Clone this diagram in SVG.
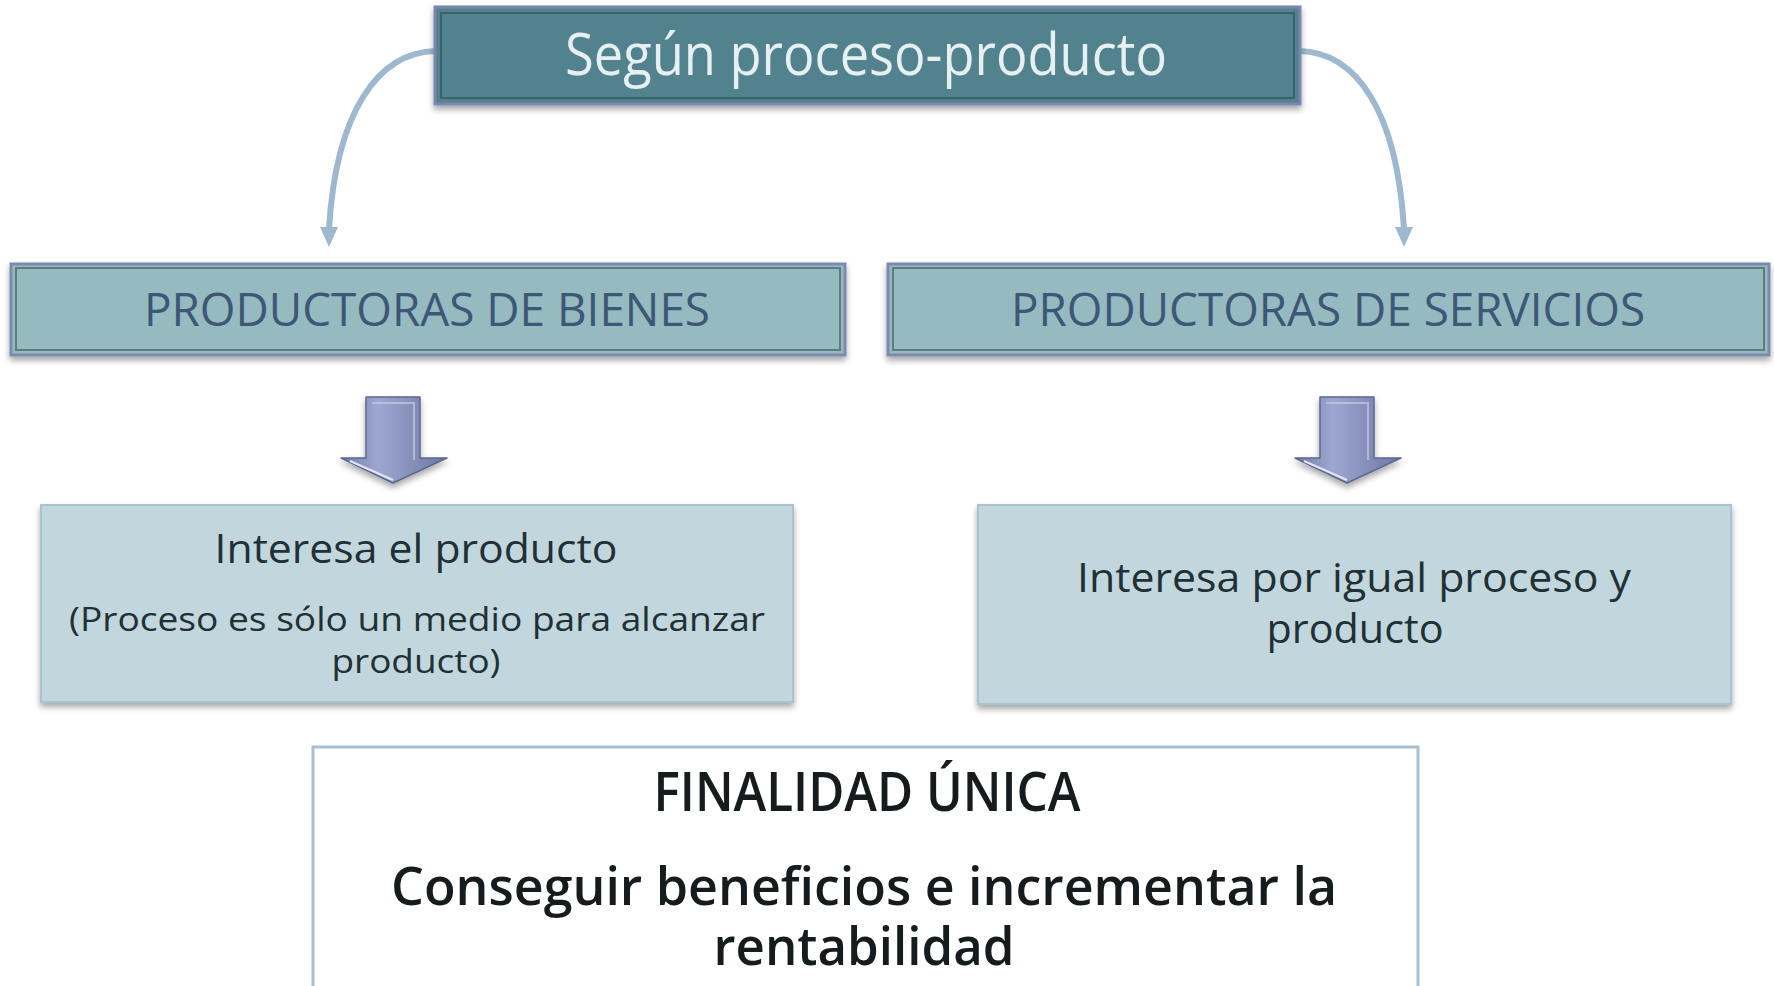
<svg xmlns="http://www.w3.org/2000/svg" width="1774" height="986" viewBox="0 0 1774 986">
  <defs>
    <filter id="sh" x="-5%" y="-20%" width="110%" height="150%">
      <feDropShadow dx="0" dy="4" stdDeviation="3" flood-color="#000" flood-opacity="0.35"/>
    </filter>
    <linearGradient id="arrowGrad" x1="0" y1="0" x2="1" y2="0">
      <stop offset="0" stop-color="#6f7ba6"/>
      <stop offset="0.35" stop-color="#9ea7d2"/>
      <stop offset="1" stop-color="#6c77a2"/>
    </linearGradient>
    <marker id="ahd" markerUnits="userSpaceOnUse" markerWidth="18" markerHeight="22" refX="9" refY="2" orient="0" viewBox="0 0 18 22">
      <path d="M0,0 L18,0 L9,20 Z" fill="#9eb8cf"/>
    </marker>
  </defs>
  <style>
    .t { font-family: "Open Sans", "DejaVu Sans", sans-serif; text-anchor: middle; }
    .head { fill: #52828f; stroke: #7a86ad; stroke-width: 3; }
    .headIn { fill: none; stroke: #3b6269; stroke-width: 2; }
    .cat { fill: #95babf; stroke: #7d8ab0; stroke-width: 3; }
    .catIn { fill: none; stroke: #5b7d80; stroke-width: 2; }
    .catTxt { fill: #3d5876; font-size: 46px; }
    .box { fill: #c2d6dd; stroke: #a9c3d0; stroke-width: 2; }
    .boxTxt { fill: #1f3134; }
    .blk { fill: url(#arrowGrad); stroke: #5d6890; stroke-width: 1.5; stroke-linejoin: round; }
    .blkHi { fill: none; stroke: #c4cbe6; stroke-width: 2; opacity: 0.7; }
    .curve { fill: none; stroke: #9eb8cf; stroke-width: 6; stroke-linecap: butt; }
    .final { fill: #ffffff; stroke: #a8c0d4; stroke-width: 3; }
    .finalTxt { fill: #161c1e; font-weight: 600; }
  </style>
  <rect width="1774" height="986" fill="#ffffff"/>

  <g id="connectors">
    <path class="curve" d="M436,51 C378,52 336,112 329,229" marker-end="url(#ahd)"/>
    <path class="curve" d="M1299,51 C1357,52 1397,112 1404,229" marker-end="url(#ahd)"/>
    <g id="arrow-left">
      <path class="blk" filter="url(#sh)" d="M366,397 L420,397 L420,458 L447,458 L393,483 L341,458 L366,458 Z"/>
      <path class="blkHi" d="M372,403 L414,403 L414,460"/>
      <path d="M350,461 L393,480" stroke="#e2e6f4" stroke-width="2" fill="none"/>
    </g>
    <g id="arrow-right">
      <path class="blk" filter="url(#sh)" d="M1320,397 L1374,397 L1374,458 L1401,458 L1347,483 L1295,458 L1320,458 Z"/>
      <path class="blkHi" d="M1326,403 L1368,403 L1368,460"/>
      <path d="M1304,461 L1347,480" stroke="#e2e6f4" stroke-width="2" fill="none"/>
    </g>
  </g>

  <g id="node-top">
    <rect class="head" x="435" y="7" width="865" height="97" filter="url(#sh)"/>
    <rect class="headIn" x="441" y="13" width="853" height="85"/>
    <text class="t" x="866" y="75" font-size="58" fill="#e6eff1" textLength="602" lengthAdjust="spacingAndGlyphs">Según proceso-producto</text>
  </g>

  <g id="node-bienes">
    <rect class="cat" x="11" y="264" width="834" height="91" filter="url(#sh)"/>
    <rect class="catIn" x="16" y="268" width="824" height="82"/>
    <text class="t catTxt" x="427" y="326" textLength="566" lengthAdjust="spacingAndGlyphs">PRODUCTORAS DE BIENES</text>
  </g>

  <g id="node-servicios">
    <rect class="cat" x="888" y="264" width="881" height="91" filter="url(#sh)"/>
    <rect class="catIn" x="893" y="268" width="871" height="82"/>
    <text class="t catTxt" x="1328" y="326" textLength="634" lengthAdjust="spacingAndGlyphs">PRODUCTORAS DE SERVICIOS</text>
  </g>

  <g id="node-producto">
    <rect class="box" x="41" y="505" width="752" height="197" filter="url(#sh)"/>
    <text class="t boxTxt" x="416" y="563" font-size="41" textLength="403" lengthAdjust="spacingAndGlyphs">Interesa el producto</text>
    <text class="t boxTxt" x="417" y="631" font-size="33" textLength="696" lengthAdjust="spacingAndGlyphs">(Proceso es sólo un medio para alcanzar</text>
    <text class="t boxTxt" x="416" y="673" font-size="33" textLength="169" lengthAdjust="spacingAndGlyphs">producto)</text>
  </g>

  <g id="node-proceso">
    <rect class="box" x="978" y="505" width="753" height="199" filter="url(#sh)"/>
    <text class="t boxTxt" x="1354" y="592" font-size="41" textLength="554" lengthAdjust="spacingAndGlyphs">Interesa por igual proceso y</text>
    <text class="t boxTxt" x="1355" y="643" font-size="41" textLength="177" lengthAdjust="spacingAndGlyphs">producto</text>
  </g>

  <g id="node-finalidad">
    <rect class="final" x="313" y="747" width="1105" height="260"/>
    <text class="t finalTxt" x="867" y="811" font-size="54" textLength="427" lengthAdjust="spacingAndGlyphs">FINALIDAD ÚNICA</text>
    <text class="t finalTxt" x="864" y="905" font-size="53" textLength="946" lengthAdjust="spacingAndGlyphs">Conseguir beneficios e incrementar la</text>
    <text class="t finalTxt" x="864" y="965" font-size="53" textLength="301" lengthAdjust="spacingAndGlyphs">rentabilidad</text>
  </g>
</svg>
